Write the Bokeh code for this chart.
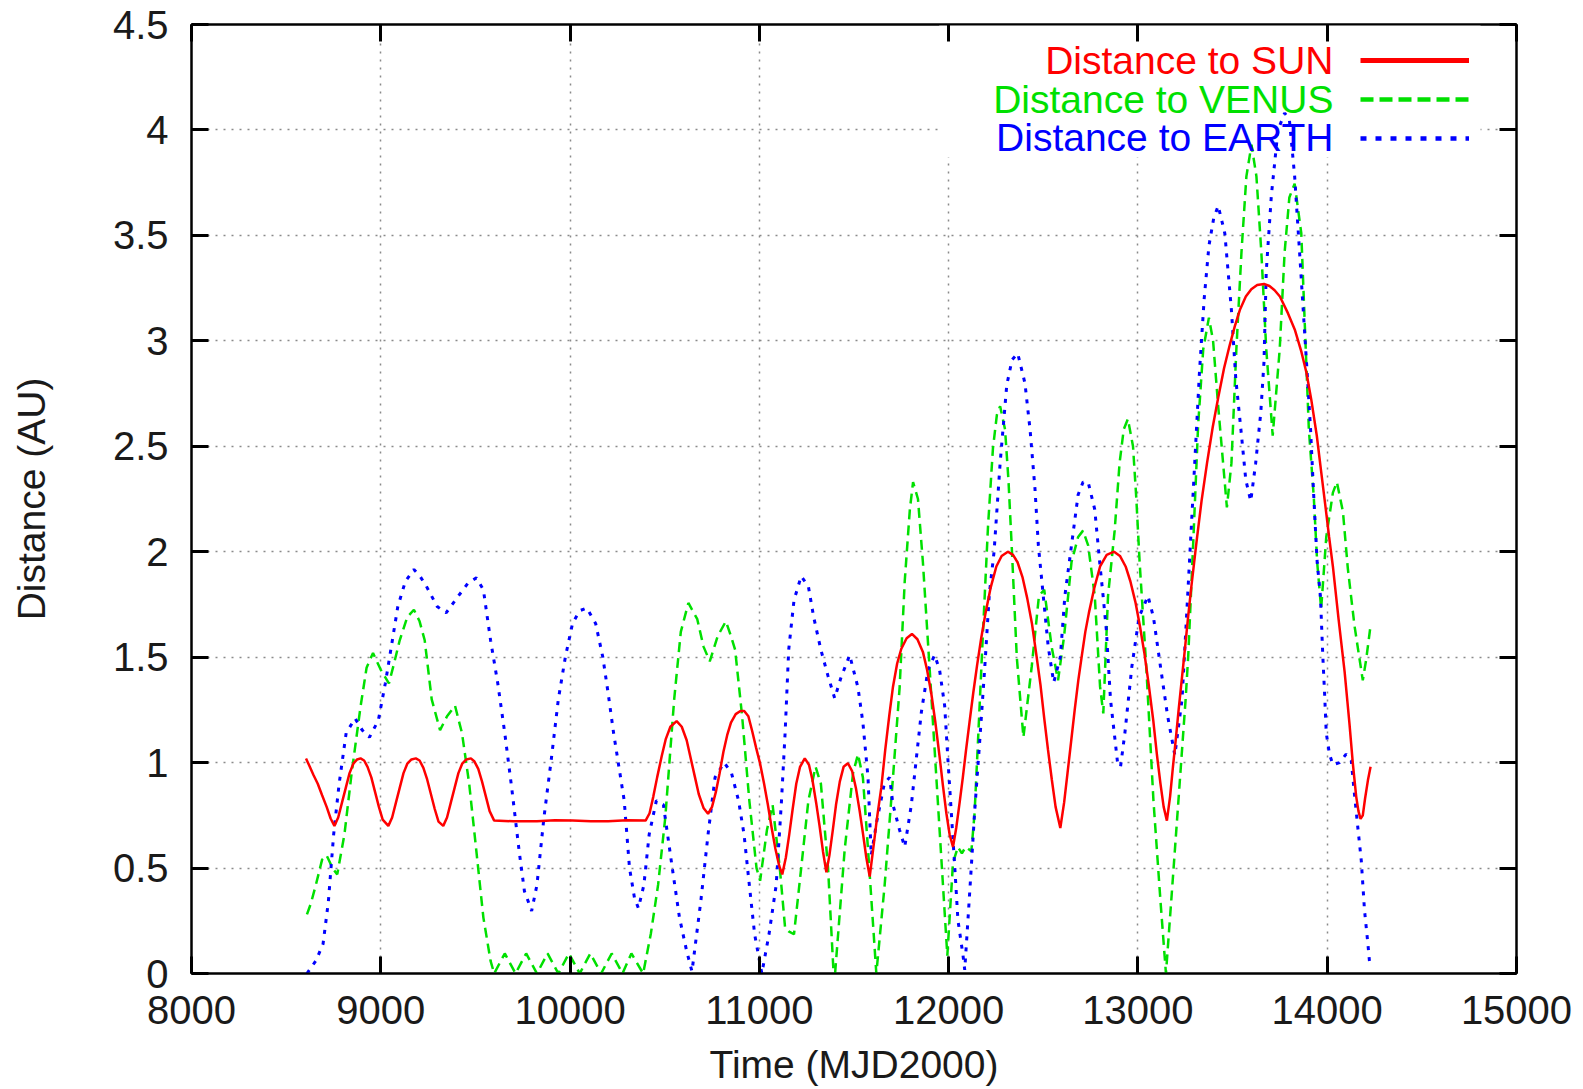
from bokeh.plotting import figure
from bokeh.models import (Range1d, FixedTicker, LinearAxis, Label, Legend, LegendItem,
                          BoxAnnotation, NumeralTickFormatter, BasicTickFormatter)
from bokeh.embed import file_html
from bokeh.resources import INLINE

# ---------------- data ----------------
SUN_T = [8605, 8625, 8645, 8667, 8690, 8714, 8735, 8755, 8775, 8795, 8815, 8835, 8855, 8875,
         8893, 8912, 8930, 8950, 8970, 8990, 9010, 9040, 9060, 9080, 9100, 9120, 9140, 9162,
         9185, 9205, 9225, 9245, 9265, 9285, 9305, 9330, 9350, 9370, 9390, 9410, 9430, 9452,
         9476, 9495, 9515, 9535, 9555, 9575, 9599, 9700, 9825, 9920, 10013, 10110, 10201,
         10300, 10399, 10420, 10440, 10460, 10484, 10505, 10530, 10563, 10590, 10616, 10640,
         10660, 10680, 10705, 10729, 10750, 10770, 10790, 10810, 10830, 10850, 10875, 10900,
         10920, 10942, 10962, 10983, 11004, 11025, 11045, 11065, 11085, 11105, 11121, 11140,
         11158, 11176, 11195, 11215, 11240, 11262, 11280, 11300, 11318, 11336, 11354, 11370,
         11388, 11405, 11425, 11445, 11468, 11490, 11510, 11530, 11548, 11565, 11583, 11600,
         11622, 11644, 11665, 11686, 11706, 11728, 11750, 11778, 11806, 11835, 11864, 11886,
         11908, 11930, 11952, 11970, 11988, 12005, 12023, 12040, 12058, 12075, 12092, 12110,
         12130, 12150, 12172, 12195, 12222, 12252, 12280, 12313, 12340, 12364, 12390, 12415,
         12440, 12462, 12485, 12505, 12525, 12545, 12565, 12590, 12610, 12628, 12647, 12666,
         12685, 12704, 12722, 12741, 12770, 12800, 12835, 12874, 12905, 12935, 12960, 12987,
         13010, 13034, 13057, 13081, 13100, 13119, 13136, 13153, 13170, 13185, 13200, 13215,
         13230, 13245, 13265, 13283, 13310, 13336, 13365, 13395, 13424, 13455, 13485, 13512,
         13540, 13570, 13599, 13630, 13666, 13695, 13722, 13750, 13793, 13830, 13863, 13890,
         13916, 13945, 13968, 13990, 14010, 14030, 14060, 14092, 14118, 14136, 14153, 14165,
         14176, 14188, 14200, 14215, 14229]
SUN_D = [1.02, 0.98, 0.94, 0.90, 0.845, 0.79, 0.735, 0.70, 0.74, 0.81, 0.88, 0.95, 0.995, 1.015,
         1.02, 1.01, 0.98, 0.93, 0.86, 0.79, 0.73, 0.70, 0.74, 0.81, 0.88, 0.95, 0.995, 1.015,
         1.02, 1.01, 0.975, 0.92, 0.85, 0.78, 0.72, 0.70, 0.74, 0.81, 0.88, 0.95, 0.995, 1.015,
         1.02, 1.005, 0.97, 0.91, 0.84, 0.77, 0.725, 0.722, 0.722, 0.727, 0.725, 0.722, 0.722,
         0.727, 0.725, 0.76, 0.84, 0.93, 1.03, 1.11, 1.17, 1.197, 1.17, 1.106, 1.01,
         0.93, 0.85, 0.785, 0.757, 0.79, 0.86, 0.95, 1.05, 1.13, 1.19, 1.23, 1.245,
         1.245, 1.22, 1.15, 1.07, 0.995, 0.90, 0.80, 0.69, 0.59, 0.51, 0.47, 0.55,
         0.66, 0.78, 0.90, 0.98, 1.02, 0.99, 0.92, 0.81, 0.70, 0.58, 0.48, 0.56,
         0.68, 0.80, 0.91, 0.98, 0.997, 0.96, 0.88, 0.77, 0.66, 0.55, 0.46, 0.58,
         0.74, 0.88, 1.06, 1.22, 1.36, 1.47, 1.54, 1.59, 1.61, 1.585, 1.525, 1.44,
         1.33, 1.19, 1.03, 0.89, 0.76, 0.66, 0.60, 0.69, 0.81, 0.93, 1.06, 1.19,
         1.33, 1.46, 1.59, 1.71, 1.83, 1.93, 1.98, 2.0, 1.985, 1.95, 1.88, 1.78,
         1.66, 1.52, 1.37, 1.21, 1.06, 0.92, 0.79, 0.69, 0.81, 0.95, 1.10, 1.25,
         1.39, 1.51, 1.62, 1.71, 1.83, 1.93, 1.985, 2.0, 1.98, 1.93, 1.86, 1.76,
         1.65, 1.52, 1.37, 1.20, 1.04, 0.90, 0.79, 0.725, 0.84, 0.98, 1.11, 1.25,
         1.38, 1.51, 1.69, 1.84, 2.05, 2.24, 2.42, 2.59, 2.73, 2.87, 2.98, 3.07,
         3.15, 3.21, 3.245, 3.265, 3.27, 3.26, 3.24, 3.21, 3.13, 3.05, 2.95, 2.85,
         2.72, 2.55, 2.38, 2.22, 2.07, 1.93, 1.68, 1.43, 1.18, 0.99, 0.84, 0.77,
         0.733, 0.75, 0.83, 0.916, 0.98]

VENUS_T = [8610, 8630, 8657, 8690, 8714, 8745, 8770, 8808, 8846, 8893, 8925, 8959, 9000, 9043,
           9070, 9100, 9140, 9175, 9205, 9232, 9269, 9313, 9350, 9392, 9429, 9467, 9505, 9542,
           9580, 9599, 9655, 9712, 9768, 9825, 9881, 9938, 9994, 10051, 10107, 10164, 10220,
           10277, 10324, 10386, 10427, 10465, 10503, 10550, 10585, 10625, 10672, 10705, 10738,
           10780, 10823, 10850, 10872, 10909, 10947, 10985, 11004, 11040, 11070, 11108, 11136,
           11155, 11183, 11221, 11259, 11297, 11325, 11363, 11391, 11400, 11451, 11495, 11521,
           11547, 11574, 11618, 11662, 11706, 11741, 11768, 11795, 11812, 11838, 11864, 11900,
           11935, 11970, 11993, 12023, 12049, 12070, 12090, 12120, 12137, 12155, 12181, 12208,
           12234, 12255, 12272, 12298, 12316, 12333, 12360, 12395, 12439, 12477, 12505, 12544,
           12578, 12610, 12649, 12684, 12710, 12737, 12772, 12800, 12817, 12842, 12877, 12903,
           12925, 12947, 12974, 12991, 13009, 13044, 13082, 13119, 13148, 13176, 13214, 13252,
           13266, 13292, 13318, 13345, 13375, 13397, 13424, 13450, 13470, 13494, 13520, 13547,
           13573, 13600, 13626, 13652, 13678, 13712, 13749, 13775, 13800, 13828, 13863, 13903,
           13929, 13947, 13968, 13995, 14030, 14051, 14083, 14109, 14144, 14171, 14188, 14206,
           14229]
VENUS_D = [0.28, 0.33, 0.42, 0.54, 0.56, 0.50, 0.47, 0.66, 0.95, 1.265, 1.45, 1.52, 1.44, 1.376,
           1.47, 1.58, 1.69, 1.725, 1.67, 1.58, 1.30, 1.154, 1.22, 1.27, 1.14, 0.90, 0.58, 0.265,
           0.06, 0.0, 0.095, 0.0, 0.095, 0.0, 0.095, 0.0, 0.095, 0.0, 0.095, 0.0, 0.095,
           0.0, 0.095, 0.0, 0.19, 0.42, 0.74, 1.30, 1.62, 1.757, 1.68, 1.55, 1.48,
           1.60, 1.67, 1.60, 1.535, 1.22, 0.82, 0.50, 0.44, 0.68, 0.80, 0.50, 0.217,
           0.20, 0.186, 0.50, 0.82, 0.98, 0.90, 0.50, 0.02, 0.0, 0.59, 0.95, 1.04,
           0.93, 0.59, 0.0, 0.42, 0.93, 1.356, 1.86, 2.20, 2.33, 2.25, 1.95, 1.44,
           0.93, 0.42, 0.085, 0.525, 0.60, 0.57, 0.60, 0.58, 0.76, 1.10, 1.61, 2.12,
           2.49, 2.65, 2.69, 2.58, 2.34, 2.03, 1.50, 1.12, 1.456, 1.79, 1.82, 1.55,
           1.39, 1.60, 1.95, 2.07, 2.10, 2.03, 1.79, 1.36, 1.233, 1.79, 2.10, 2.42,
           2.58, 2.63, 2.50, 2.26, 1.95, 1.456, 0.82, 0.345, 0.0, 0.345, 0.82, 1.30,
           1.51, 2.04, 2.60, 2.96, 3.11, 3.00, 2.69, 2.42, 2.21, 2.42, 2.96, 3.42,
           3.78, 3.93, 3.78, 3.42, 2.96, 2.55, 2.96, 3.42, 3.68, 3.745, 3.51, 2.58,
           2.26, 1.95, 1.73, 2.07, 2.28, 2.33, 2.19, 1.92, 1.65, 1.49, 1.39, 1.49,
           1.65]

EARTH_T = [8610, 8657, 8695, 8723, 8751, 8780, 8817, 8864, 8902, 8940, 8987, 9024, 9053, 9090,
           9130, 9175, 9210, 9241, 9298, 9345, 9410, 9460, 9505, 9542, 9580, 9618, 9655, 9693,
           9731, 9759, 9797, 9825, 9862, 9900, 9938, 9975, 10013, 10050, 10088, 10135, 10173,
           10201, 10230, 10258, 10286, 10314, 10340, 10361, 10390, 10418, 10456, 10493, 10540,
           10578, 10616, 10644, 10691, 10729, 10766, 10814, 10853, 10890, 10919, 10947, 10975,
           11013, 11051, 11089, 11117, 11136, 11155, 11183, 11221, 11259, 11287, 11325, 11363,
           11398, 11430, 11477, 11521, 11547, 11574, 11591, 11620, 11660, 11688, 11706, 11741,
           11768, 11803, 11829, 11856, 11891, 11926, 11952, 11979, 11996, 12014, 12032, 12049,
           12076, 12085, 12102, 12120, 12137, 12164, 12190, 12215, 12240, 12272, 12307, 12335,
           12365, 12403, 12430, 12456, 12474, 12500, 12526, 12555, 12590, 12614, 12649, 12684,
           12710, 12737, 12772, 12798, 12816, 12833, 12855, 12893, 12908, 12931, 12968, 13006,
           13053, 13082, 13119, 13157, 13195, 13233, 13252, 13271, 13300, 13325, 13350, 13375,
           13400, 13424, 13459, 13494, 13517, 13544, 13570, 13596, 13622, 13649, 13666, 13678,
           13705, 13740, 13775, 13800, 13828, 13854, 13880, 13894, 13912, 13929, 13947, 13964,
           13977, 13986, 13995, 14012, 14030, 14065, 14100, 14127, 14144, 14162, 14180, 14197,
           14215, 14226]
EARTH_D = [0.0, 0.06, 0.14, 0.34, 0.66, 0.90, 1.14, 1.21, 1.154, 1.12, 1.20, 1.376, 1.535, 1.74,
           1.86, 1.916, 1.88, 1.836, 1.74, 1.71, 1.79, 1.85, 1.876, 1.82, 1.58, 1.376, 1.14, 0.87,
           0.58, 0.39, 0.297, 0.42, 0.74, 1.01, 1.30, 1.50, 1.66, 1.72, 1.733, 1.66, 1.50,
           1.33, 1.14, 0.98, 0.82, 0.50, 0.36, 0.31, 0.42, 0.66, 0.82, 0.80, 0.50,
           0.265, 0.106, 0.01, 0.345, 0.66, 0.93, 1.00, 0.95, 0.82, 0.66, 0.42, 0.186,
           0.0, 0.186, 0.42, 0.82, 1.14, 1.535, 1.77, 1.884, 1.836, 1.69, 1.535, 1.41,
           1.305, 1.40, 1.51, 1.356, 1.19, 0.93, 0.56, 0.72, 0.90, 0.93, 0.80, 0.68,
           0.60, 0.80, 1.017, 1.24, 1.44, 1.51, 1.44, 1.27, 1.017, 0.763, 0.51, 0.254,
           0.085, 0.017, 0.254, 0.51, 0.763, 1.10, 1.44, 1.80, 2.00, 2.42, 2.79, 2.91,
           2.94, 2.80, 2.58, 2.30, 2.03, 1.79, 1.55, 1.38, 1.50, 1.79, 2.03, 2.27,
           2.33, 2.33, 2.20, 1.95, 1.79, 1.63, 1.30, 0.995, 0.98, 1.14, 1.456, 1.69,
           1.79, 1.69, 1.456, 1.22, 1.035, 1.30, 1.61, 1.93, 2.42, 2.85, 3.2, 3.45,
           3.58, 3.64, 3.51, 3.145, 2.82, 2.58, 2.34, 2.24, 2.42, 2.66, 2.90, 3.33,
           3.69, 4.0, 4.08, 4.05, 3.78, 3.42, 3.05, 2.85, 2.58, 2.26, 1.95, 1.79,
           1.50, 1.33, 1.14, 1.04, 0.99, 1.0, 1.04, 1.01, 0.85, 0.69, 0.535, 0.30,
           0.14, 0.03]

X_TICKS = [8000, 9000, 10000, 11000, 12000, 13000, 14000, 15000]
Y_TICKS = [0, 0.5, 1, 1.5, 2, 2.5, 3, 3.5, 4, 4.5]
LABELS = ["Distance to SUN", "Distance to VENUS", "Distance to EARTH"]
X_TITLE = "Time (MJD2000)"
Y_TITLE = "Distance (AU)"

RED, GREEN, BLUE = "#ff0000", "#00e000", "#0000ff"
FONT = "Liberation Sans"
TXT = "#1a1a1a"

p = figure(width=1575, height=1089, output_backend="svg", toolbar_location=None,
           x_range=Range1d(8000, 15000), y_range=Range1d(0, 4.5),
           min_border_left=191, min_border_right=59, min_border_top=24, min_border_bottom=116)
p.background_fill_color = "white"
p.border_fill_color = "white"
p.outline_line_color = "black"
p.outline_line_width = 2

xt = FixedTicker(ticks=X_TICKS)
yt = FixedTicker(ticks=Y_TICKS)


def style(ax, labels):
    ax.axis_line_color = "black"
    ax.axis_line_width = 2
    ax.major_tick_in = 17
    ax.major_tick_out = 0
    ax.major_tick_line_width = 3
    ax.major_tick_line_color = "black"
    ax.minor_tick_line_color = None
    ax.major_label_text_font = FONT
    ax.axis_label_text_font = FONT
    ax.axis_label_text_color = TXT
    ax.axis_label_text_font_style = "normal"
    ax.axis_label_text_font_size = "39px"
    if labels:
        ax.major_label_text_font_size = "40px"
        ax.major_label_text_color = TXT
    else:
        ax.major_label_text_font_size = "10px"
        ax.major_label_text_color = None


xa = p.xaxis[0]
xa.ticker = xt
xa.formatter = BasicTickFormatter(use_scientific=False)
style(xa, True)
xa.major_label_standoff = 22
xa.axis_label = X_TITLE
xa.axis_label_standoff = 16

ya = p.yaxis[0]
ya.ticker = yt
ya.formatter = NumeralTickFormatter(format="0.[0]")
style(ya, True)
ya.major_label_standoff = 23
ya.axis_label = Y_TITLE
ya.axis_label_standoff = 57

top = LinearAxis(ticker=xt)
style(top, False)
p.add_layout(top, "above")
right = LinearAxis(ticker=yt)
style(right, False)
p.add_layout(right, "right")

for g in (p.xgrid[0], p.ygrid[0]):
    g.grid_line_color = "#8a8a8a"
    g.grid_line_dash = "2 6"
    g.grid_line_width = 1.5
p.xgrid[0].ticker = xt
p.ygrid[0].ticker = yt

# white key area hiding the grid (behind the curves)
p.add_layout(BoxAnnotation(left=11950, right=14810, bottom=3.87, top=4.5,
                           fill_color="white", fill_alpha=1.0, line_color=None,
                           level="underlay"))

r_ven = p.line(VENUS_T, VENUS_D, line_color=GREEN, line_width=2.5, line_dash="10 6")
r_ear = p.line(EARTH_T, EARTH_D, line_color=BLUE, line_width=3, line_dash="4 7")
r_sun = p.line(SUN_T, SUN_D, line_color=RED, line_width=2.5)

# key samples: hidden copies of the series, styled like gnuplot's key
k_sun = p.line(SUN_T, SUN_D, line_color=RED, line_width=5, visible=False)
k_ven = p.line(VENUS_T, VENUS_D, line_color=GREEN, line_width=4.5, line_dash="13 6", visible=False)
k_ear = p.line(EARTH_T, EARTH_D, line_color=BLUE, line_width=4.5, line_dash="6 9", visible=False)
leg = Legend(items=[LegendItem(label=" ", renderers=[k_sun]),
                    LegendItem(label=" ", renderers=[k_ven]),
                    LegendItem(label=" ", renderers=[k_ear])],
             location=(1169, 825), glyph_width=109, glyph_height=20, label_height=20,
             label_width=1, spacing=19, padding=0, margin=0, border_line_color=None,
             background_fill_alpha=0, label_text_font_size="10px", label_text_color=None,
             click_policy="none")
p.add_layout(leg)

for lab, col, yy in zip(LABELS, (RED, GREEN, BLUE), (4.33, 4.145, 3.964)):
    p.add_layout(Label(x=14033, y=yy, text=lab, text_align="right", text_baseline="middle",
                       text_color=col, text_font=FONT, text_font_size="39px"))

open("out.html", "w").write(file_html(p, INLINE))
